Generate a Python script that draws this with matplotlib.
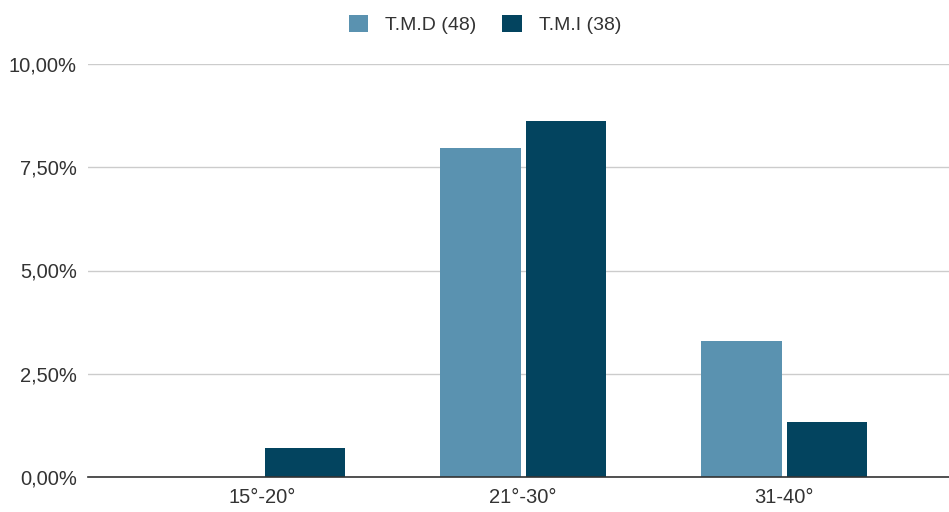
import matplotlib
matplotlib.use("Agg")
import matplotlib.pyplot as plt
import numpy as np
from matplotlib.ticker import FuncFormatter

categories = ["15°-20°", "21°-30°", "31-40°"]
series_names = ["T.M.D (48)", "T.M.I (38)"]
tmd = [0.0, 7.97, 3.29]
tmi = [0.70, 8.62, 1.33]
colors = ["#5a92b0", "#03445f"]

plt.rcParams['font.family'] = ['Liberation Sans', 'DejaVu Sans']

fig = plt.figure(figsize=(9.49, 5.12), dpi=100)
ax = fig.add_axes([88/949, 1-477/512, 1-88/949, (477-64)/512])

x = np.arange(len(categories))
w = 0.307
off = 0.163
ax.bar(x - off, tmd, width=w, color=colors[0], label=series_names[0], zorder=3)
ax.bar(x + off, tmi, width=w, color=colors[1], label=series_names[1], zorder=3)

ax.set_xlim(-0.667, 2.632)
ax.set_ylim(0, 10)
ax.set_yticks([0, 2.5, 5, 7.5, 10])
ax.yaxis.set_major_formatter(FuncFormatter(lambda v, p: f"{v:.2f}".replace(".", ",") + "%"))
ax.set_xticks(x)
ax.set_xticklabels(categories)
ax.grid(axis='y', color='#cccccc', linewidth=1, zorder=0)
for s in ['top', 'right', 'left']:
    ax.spines[s].set_visible(False)
ax.spines['bottom'].set_color('#333333')
ax.spines['bottom'].set_linewidth(1.2)
ax.spines['bottom'].set_zorder(4)
ax.tick_params(axis='both', length=0, labelsize=14.5, colors='#333333')
ax.tick_params(axis='y', pad=8)
ax.tick_params(axis='x', pad=8)

leg = fig.legend(loc='upper center', bbox_to_anchor=(0.511, 1.005), ncol=2, frameon=False,
                 fontsize=14, handlelength=1.0, handleheight=1.0, columnspacing=1.34,
                 handletextpad=0.88)
for t in leg.get_texts():
    t.set_color('#333333')

fig.savefig("out.png", dpi=100)
